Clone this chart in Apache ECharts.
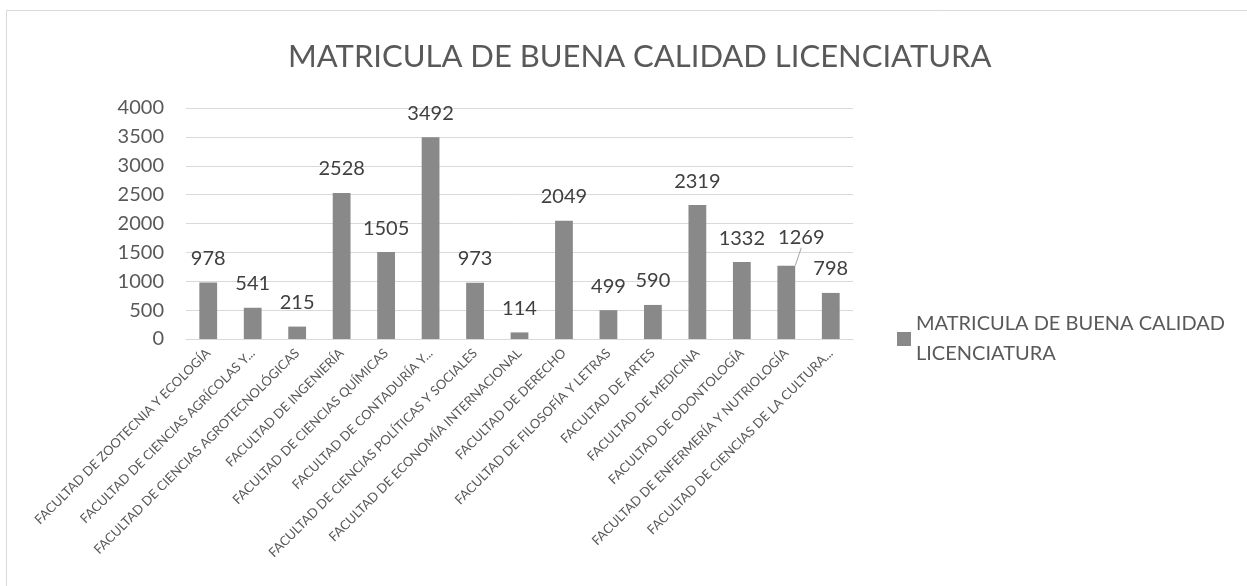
<!DOCTYPE html>
<html>
<head>
<meta charset="utf-8">
<script src="https://cdn.jsdelivr.net/npm/echarts@6/dist/echarts.min.js"></script>
<style>
  html, body { margin: 0; padding: 0; background: #fff; }
  #chart { width: 1247px; height: 586px; }
</style>
</head>
<body>
<div id="chart"></div>
<script>
var myChart = echarts.init(document.getElementById('chart'));

// facultades (etiquetas tal como aparecen, recortadas)
var categorias = [
    'FACULTAD DE ZOOTECNIA Y ECOLOGÍA',
    'FACULTAD DE CIENCIAS AGRÍCOLAS Y...',
    'FACULTAD DE CIENCIAS AGROTECNOLÓGICAS',
    'FACULTAD DE INGENIERÍA',
    'FACULTAD DE CIENCIAS QUÍMICAS',
    'FACULTAD DE CONTADURÍA Y...',
    'FACULTAD DE CIENCIAS POLÍTICAS Y SOCIALES',
    'FACULTAD DE ECONOMÍA INTERNACIONAL',
    'FACULTAD DE DERECHO',
    'FACULTAD DE FILOSOFÍA Y LETRAS',
    'FACULTAD DE ARTES',
    'FACULTAD DE MEDICINA',
    'FACULTAD DE ODONTOLOGÍA',
    'FACULTAD DE ENFERMERÍA Y NUTRIOLOGÍA',
    'FACULTAD DE CIENCIAS DE LA CULTURA...'
];
var matricula = [978, 541, 215, 2528, 1505, 3492, 973, 114, 2049, 499, 590, 2319, 1332, 1269, 798];
var nombreSerie = 'MATRICULA DE BUENA CALIDAD LICENCIATURA';
var titulo = 'MATRICULA DE BUENA CALIDAD LICENCIATURA';

var fuente = 'Lato';
var etiquetaMovida = 13; // 1269 lleva línea guía

function makeBarData(valores) {
    var data = [];
    for (var i = 0; i < valores.length; i++) {
        if (i === etiquetaMovida) {
            data.push({ value: valores[i], labelLine: { show: true } });
        } else {
            data.push(valores[i]);
        }
    }
    return data;
}

option = {
    animation: false,
    backgroundColor: '#fff',
    textStyle: { fontFamily: fuente },
    title: {
        text: titulo,
        left: 283,
        top: 36,
        textStyle: {
            fontFamily: fuente,
            fontSize: 31,
            fontWeight: 'normal',
            color: '#595959'
        }
    },
    // borde del área del gráfico
    graphic: [{
        type: 'rect',
        silent: true,
        shape: { x: 6.5, y: 10.5, width: 1400, height: 800 },
        style: { fill: 'none', stroke: '#d9d9d9', lineWidth: 1 }
    }],
    legend: {
        left: 892,
        top: 289,
        orient: 'vertical',
        icon: 'rect',
        itemWidth: 14,
        itemHeight: 14,
        itemGap: 4,
        formatter: function () {
            return 'MATRICULA DE BUENA CALIDAD\nLICENCIATURA';
        },
        textStyle: {
            fontFamily: fuente,
            fontSize: 20,
            color: '#595959',
            lineHeight: 30,
            padding: [30, 0, 0, 0]
        },
        data: [nombreSerie]
    },
    grid: {
        left: 186,
        right: 394,
        top: 108,
        bottom: 247,
        containLabel: false
    },
    xAxis: {
        type: 'category',
        data: categorias,
        axisTick: { show: false },
        axisLine: { lineStyle: { color: '#d9d9d9' } },
        axisLabel: {
            interval: 0,
            rotate: 45,
            margin: 12,
            fontFamily: fuente,
            fontSize: 13,
            color: '#595959'
        }
    },
    yAxis: {
        type: 'value',
        min: 0,
        max: 4000,
        interval: 500,
        axisLine: { show: false },
        axisTick: { show: false },
        splitLine: { lineStyle: { color: '#d9d9d9', width: 1 } },
        axisLabel: {
            margin: 22,
            fontFamily: fuente,
            fontSize: 20,
            color: '#595959',
            formatter: function (v) { return String(v); }
        }
    },
    series: [{
        name: nombreSerie,
        type: 'bar',
        data: makeBarData(matricula),
        barCategoryGap: '60%',
        itemStyle: { color: '#898989' },
        label: {
            show: true,
            position: 'top',
            distance: 14,
            fontFamily: fuente,
            fontSize: 20,
            color: '#404040'
        },
        labelLayout: function (params) {
            if (params.dataIndex === etiquetaMovida) {
                return { dx: 15, dy: -4 };
            }
            return {};
        },
        labelLine: {
            show: false,
            lineStyle: { color: '#a6a6a6', width: 1 }
        }
    }]
};

myChart.setOption(option);
</script>
</body>
</html>
